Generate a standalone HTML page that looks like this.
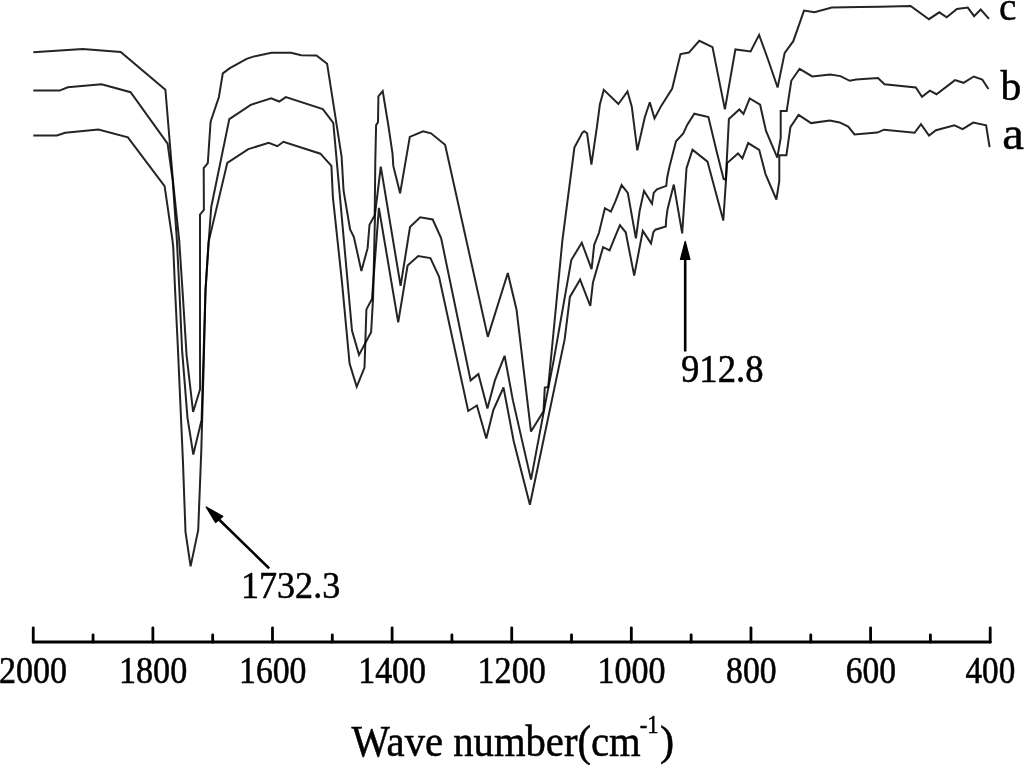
<!DOCTYPE html>
<html><head><meta charset="utf-8"><style>
html,body{margin:0;padding:0;background:#fff;}
svg{display:block;will-change:transform;}
text{font-family:"Liberation Serif",serif;fill:#000;stroke:#000;stroke-width:0.5px;}
</style></head><body>
<svg width="1024" height="765" viewBox="0 0 1024 765">
<rect width="1024" height="765" fill="#fff"/>
<g fill="none" stroke="#000" stroke-opacity="0.86" stroke-width="2" stroke-linejoin="miter" stroke-miterlimit="3">
<polyline points="33.3,52.2 82.7,49.1 120.7,52.0 165.4,89.7 172.9,180.4 179.2,240.4 182.5,290.4 186.6,355.4 193.1,412.0 200.1,389.2 200.0,350.4 200.0,214.7 203.9,209.8 203.7,168.2 207.8,163.2 210.6,121.7 218.9,97.0 222.8,73.4 229.9,68.2 246.6,58.8 253.3,56.6 271.4,52.7 291.0,52.7 301.2,55.2 316.5,55.5 327.1,63.7 341.6,156.5 343.6,191.0 350.1,229.4 353.8,236.8 361.4,271.0 367.6,248.2 369.5,224.7 374.7,215.3 375.3,161.2 376.1,125.1 378.0,122.2 378.4,96.3 382.7,91.1 388.2,124.5 392.5,153.3 393.3,165.9 400.1,193.3 409.8,136.9 423.1,131.4 431.0,133.3 445.1,144.7 487.8,336.9 507.8,273.0 516.5,309.4 531.0,431.6 543.5,411.2 544.8,387.5 548.2,387.0 562.4,240.4 574.4,147.5 582.4,132.6 584.2,131.3 587.1,133.3 591.4,164.7 596.8,127.9 599.9,104.3 603.8,89.9 618.4,104.0 627.5,91.5 631.8,106.7 637.3,150.4 644.8,117.2 649.8,102.2 654.5,118.4 661.2,105.9 672.2,88.6 680.5,54.1 688.9,52.6 699.3,40.8 712.5,47.1 724.9,109.4 735.4,49.4 750.6,51.5 759.1,34.9 768.2,60.0 777.6,87.5 784.7,52.9 793.3,41.2 804.0,10.6 814.5,12.2 831.8,7.5 860.0,7.0 880.0,6.8 910.6,6.0 928.9,19.2 939.3,12.3 946.7,17.3 956.9,9.0 967.8,7.6 974.1,16.1 980.7,9.5 989.0,18.9"/>
<polyline points="33.3,90.6 59.5,90.6 67.8,87.2 101.6,84.3 130.6,92.2 167.6,143.7 172.7,180.4 176.9,240.4 179.4,290.4 182.1,350.4 187.5,417.9 193.3,454.5 201.6,419.9 203.7,350.4 205.5,290.4 208.6,243.1 211.2,207.2 229.3,119.1 250.7,104.9 271.1,98.2 279.2,101.5 285.8,97.1 322.8,109.1 333.3,122.8 352.0,330.6 359.0,354.9 371.1,332.2 373.1,297.7 375.0,214.4 380.8,166.7 400.6,285.9 410.0,227.1 420.2,217.3 432.7,219.5 441.1,238.0 470.6,380.4 478.4,374.1 487.4,408.6 494.9,380.4 504.6,355.8 512.9,400.4 531.0,479.6 545.9,400.4 553.7,360.4 571.3,260.0 581.8,242.7 591.6,269.2 594.2,244.8 598.9,233.0 604.9,208.2 610.9,211.6 615.4,201.4 621.6,185.1 627.8,192.9 635.9,238.4 639.6,211.0 644.0,190.9 652.0,203.8 653.7,192.9 656.9,189.4 666.3,185.9 667.1,178.0 669.4,167.1 676.0,141.2 683.3,133.5 687.3,124.7 694.3,113.7 708.4,117.1 716.4,150.6 723.6,179.0 725.8,179.6 728.9,118.9 739.3,109.5 743.5,113.9 749.7,98.4 760.1,104.7 766.0,131.0 777.3,157.7 780.7,138.0 780.7,111.0 786.7,111.0 791.3,80.8 799.6,68.8 812.2,76.4 830.2,74.4 840.4,76.1 849.8,80.8 856.1,79.5 878.0,78.1 884.5,84.2 915.8,87.5 922.0,96.9 929.9,90.6 936.5,94.2 955.0,80.1 963.5,82.8 973.8,76.5 982.3,79.6 988.5,89.0"/>
<polyline points="33.3,135.5 56.9,135.5 65.2,132.8 98.4,129.5 127.9,137.4 164.6,186.1 172.5,240.4 173.3,248.4 175.1,290.4 178.0,350.4 182.9,460.4 185.5,531.9 190.6,566.4 198.2,530.2 201.3,450.4 203.8,360.4 205.5,290.4 208.6,241.8 227.3,162.8 248.3,149.1 268.7,142.9 277.3,146.2 283.5,141.8 320.4,153.7 331.4,165.9 332.9,197.3 341.8,280.4 349.6,363.5 356.7,386.8 364.5,367.5 366.4,309.4 372.0,298.9 378.9,207.9 398.2,322.4 407.6,265.5 418.2,256.1 430.4,258.1 439.0,276.5 468.2,411.0 476.9,405.5 486.3,438.4 493.3,410.2 503.5,387.5 513.7,441.2 529.9,504.7 564.7,339.2 569.9,296.9 580.1,279.6 590.3,306.0 592.9,282.8 603.1,247.2 609.6,250.3 613.3,241.2 619.9,225.2 625.7,232.3 634.2,275.6 642.8,230.9 651.0,243.4 653.4,232.2 655.4,229.7 665.8,226.5 666.2,219.1 667.5,209.4 673.8,184.6 682.2,233.4 686.5,168.1 692.5,149.7 707.5,161.6 723.3,220.6 727.1,163.1 738.0,153.4 742.4,158.4 748.2,143.1 759.2,149.8 765.5,174.1 776.4,199.5 779.3,180.9 779.3,155.3 786.4,155.3 790.4,127.1 798.6,114.9 811.1,123.1 829.9,120.5 839.6,122.4 848.2,126.6 854.5,134.4 877.3,132.6 884.1,129.7 914.6,132.8 921.0,124.2 929.0,135.5 936.0,130.2 954.4,125.3 962.6,129.1 973.2,122.6 986.1,125.3 989.6,147.2"/>
</g>
<g stroke="#000" stroke-width="2.8" fill="none" stroke-linecap="round" stroke-linejoin="round">
<line x1="33.25" y1="642" x2="990.2" y2="642" stroke-width="3.1"/>
<line x1="33.25" y1="627.8" x2="33.25" y2="642" /><line x1="93.06" y1="634.8" x2="93.06" y2="642" /><line x1="152.87" y1="627.8" x2="152.87" y2="642" /><line x1="212.68" y1="634.8" x2="212.68" y2="642" /><line x1="272.49" y1="627.8" x2="272.49" y2="642" /><line x1="332.30" y1="634.8" x2="332.30" y2="642" /><line x1="392.11" y1="627.8" x2="392.11" y2="642" /><line x1="451.92" y1="634.8" x2="451.92" y2="642" /><line x1="511.73" y1="627.8" x2="511.73" y2="642" /><line x1="571.53" y1="634.8" x2="571.53" y2="642" /><line x1="631.34" y1="627.8" x2="631.34" y2="642" /><line x1="691.15" y1="634.8" x2="691.15" y2="642" /><line x1="750.96" y1="627.8" x2="750.96" y2="642" /><line x1="810.77" y1="634.8" x2="810.77" y2="642" /><line x1="870.58" y1="627.8" x2="870.58" y2="642" /><line x1="930.39" y1="634.8" x2="930.39" y2="642" /><line x1="990.20" y1="627.8" x2="990.20" y2="642" />
</g>
<text font-size="37" transform="matrix(0.9755,0,0,1.0440,240.97,597.80)">1732.3</text>
<text font-size="37" transform="matrix(0.9914,0,0,1.0840,681.01,382.00)">912.8</text>
<text font-size="34" transform="matrix(1.0000,0,0,1.1045,-1.00,683.00)">2000</text>
<text font-size="34" transform="matrix(1.0039,0,0,1.1045,118.99,683.00)">1800</text>
<text font-size="34" transform="matrix(0.9922,0,0,1.1045,239.02,683.00)">1600</text>
<text font-size="34" transform="matrix(0.9961,0,0,1.1045,358.26,683.00)">1400</text>
<text font-size="34" transform="matrix(1.0016,0,0,1.1045,477.60,683.00)">1200</text>
<text font-size="34" transform="matrix(1.0000,0,0,1.1045,597.50,683.00)">1000</text>
<text font-size="34" transform="matrix(0.9898,0,0,1.1045,726.11,683.00)">800</text>
<text font-size="34" transform="matrix(0.9847,0,0,1.1045,845.77,683.00)">600</text>
<text font-size="34" transform="matrix(0.9750,0,0,1.1045,965.50,683.00)">400</text>
<text font-size="41" transform="matrix(0.9921,0,0,1.0556,351.50,755.54)">Wave number(cm</text>
<text font-size="24" transform="matrix(0.9389,0,0,1.0800,639.66,733.30)">-1</text>
<text font-size="41" transform="matrix(1.0364,0,0,1.0108,659.96,755.00)">)</text>
<text font-size="44" transform="matrix(0.8889,0,0,0.9333,999.11,19.80)">c</text>
<text font-size="41" transform="matrix(1.0158,0,0,1.0034,1000.50,99.90)">b</text>
<text font-size="50" transform="matrix(0.9762,0,0,0.9280,1002.22,148.97)">a</text>
<!-- arrows -->
<g stroke="#000" stroke-width="2.6" fill="#000">
<line x1="269.2" y1="568.4" x2="219" y2="519.5"/>
<polygon points="206.2,507.0 222.7,516.4 215.6,522.4" stroke-width="1.3" stroke-linejoin="round"/>
<line x1="685.2" y1="351.5" x2="685.2" y2="258"/>
<polygon points="685.2,241.3 689.9,259.4 680.5,259.4" stroke-width="1.3" stroke-linejoin="round"/>
</g>
</svg>
</body></html>
